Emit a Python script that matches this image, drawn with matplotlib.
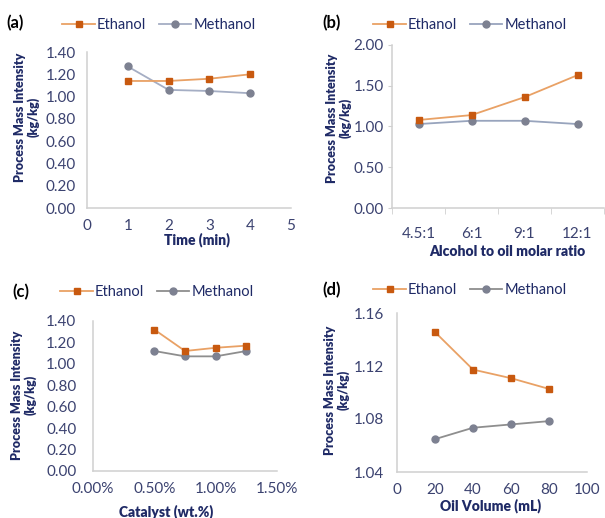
import numpy as np
import matplotlib
matplotlib.use('Agg')
import matplotlib.pyplot as plt
from matplotlib.ticker import PercentFormatter, FixedLocator

plt.rcParams['font.family'] = ['Lato', 'DejaVu Sans']

# data
a_time = [1, 2, 3, 4]
a_eth = [1.14, 1.14, 1.16, 1.20]
a_meth = [1.27, 1.06, 1.05, 1.03]

b_ratio = ['4.5:1', '6:1', '9:1', '12:1']
b_eth = [1.08, 1.14, 1.36, 1.63]
b_meth = [1.03, 1.07, 1.07, 1.03]

c_cat = [0.005, 0.0075, 0.010, 0.0125]
c_eth = [1.32, 1.12, 1.15, 1.17]
c_meth = [1.12, 1.07, 1.07, 1.12]

d_vol = [20, 40, 60, 80]
d_eth = [1.1456, 1.1173, 1.1108, 1.1027]
d_meth = [1.0648, 1.0734, 1.0759, 1.0784]

W, H = 605, 518
NAVY = '#1f2a66'
TICK = '#3b4270'
SPINE = '#d0d0d0'
ETH_M, ETH_L = '#c8590f', '#e9a165'
METH_M = '#7d8191'

fig = plt.figure(figsize=(W / 100, H / 100), dpi=100)


def px_axes(left, right, top, bottom):
    return fig.add_axes([left / W, 1 - bottom / H, (right - left) / W, (bottom - top) / H])


def style(ax, ypad, xpad):
    for s in ['top', 'right']:
        ax.spines[s].set_visible(False)
    for s in ['left', 'bottom']:
        ax.spines[s].set_color(SPINE)
        ax.spines[s].set_linewidth(1.1)
    ax.tick_params(axis='y', length=0, pad=ypad, labelsize=11, labelcolor=TICK)
    ax.tick_params(axis='x', length=0, pad=xpad, labelsize=11, labelcolor=TICK)


def draw(ax, x, eth, meth, meth_line):
    ax.plot(x, meth, color=meth_line, lw=1.3, marker='o', ms=5,
            mfc=METH_M, mec=METH_M, label='Methanol', zorder=2)
    ax.plot(x, eth, color=ETH_L, lw=1.3, marker='s', ms=5,
            mfc=ETH_M, mec=ETH_M, label='Ethanol', zorder=3)


def legend(ax, cx, cy):
    h, l = ax.get_legend_handles_labels()
    fig.legend(h[::-1], l[::-1], loc='center', bbox_to_anchor=(cx / W, 1 - cy / H),
               ncol=2, frameon=False, fontsize=10.5, handlelength=2.2,
               handletextpad=0.15, columnspacing=0.9, labelcolor=NAVY)


def ylab(x, y):
    fig.text(x / W, 1 - y / H, 'Process Mass Intensity\n(kg/kg)', rotation=90,
             ha='center', va='center', multialignment='center',
             fontsize=9, fontweight='heavy', color=NAVY, linespacing=1.1)


def xlab(x, y, s):
    fig.text(x / W, 1 - y / H, s, ha='center', va='center',
             fontsize=10, fontweight='heavy', color=NAVY)


def panel(x, y, s):
    fig.text(x / W, 1 - y / H, s, ha='left', va='center',
             fontsize=12, fontweight='bold', color='black')


# (a)
ax = px_axes(87, 291, 52, 208)
draw(ax, a_time, a_eth, a_meth, '#a5aec4')
ax.set_xlim(0, 5)
ax.set_ylim(0, 1.4)
ax.set_xticks(range(0, 6))
ax.set_yticks(np.arange(0, 1.41, 0.2))
ax.yaxis.set_major_formatter(lambda v, p: f'{v:.2f}')
style(ax, 8, 8)
legend(ax, 159, 25)
ylab(27, 117)
xlab(197, 240, 'Time (min)')
panel(6, 23, '(a)')

# (b)
ax = px_axes(392, 604, 45, 208)
draw(ax, range(len(b_ratio)), b_eth, b_meth, '#98a4bd')
ax.set_xlim(-0.5, 3.5)
ax.set_ylim(0, 2.0)
ax.set_xticks(range(len(b_ratio)))
ax.set_xticklabels(b_ratio)
ax.set_yticks(np.arange(0, 2.01, 0.5))
ax.yaxis.set_major_formatter(lambda v, p: f'{v:.2f}')
style(ax, 3, 14)
ax.tick_params(axis='y', length=3, color=SPINE)
ax.xaxis.set_minor_locator(FixedLocator(np.arange(-0.5, 3.6, 1)))
ax.tick_params(axis='x', which='minor', length=4, color=SPINE)
legend(ax, 470, 25)
ylab(339, 118)
xlab(507, 252, 'Alcohol to oil molar ratio')
panel(322, 23, '(b)')

# (c)
ax = px_axes(93, 277, 321, 471)
draw(ax, c_cat, c_eth, c_meth, '#8e8e8e')
ax.set_xlim(0, 0.015)
ax.set_ylim(0, 1.4)
ax.set_xticks([0, 0.005, 0.01, 0.015])
ax.xaxis.set_major_formatter(PercentFormatter(1, decimals=2))
ax.set_yticks(np.arange(0, 1.41, 0.2))
ax.yaxis.set_major_formatter(lambda v, p: f'{v:.2f}')
style(ax, 12, 8)
legend(ax, 157, 292)
ylab(24, 395)
xlab(166, 512, 'Catalyst (wt.%)')
panel(12, 292, '(c)')

# (d)
ax = px_axes(397, 587, 313, 472)
draw(ax, d_vol, d_eth, d_meth, '#8e8e8e')
ax.set_xlim(0, 100)
ax.set_ylim(1.04, 1.16)
ax.set_xticks(range(0, 101, 20))
ax.set_yticks([1.04, 1.08, 1.12, 1.16])
ax.yaxis.set_major_formatter(lambda v, p: f'{v:.2f}')
style(ax, 9, 8)
legend(ax, 470, 290)
ylab(337, 390)
xlab(491, 506, 'Oil Volume (mL)')
panel(322, 290, '(d)')

fig.savefig('out.png', dpi=100)
